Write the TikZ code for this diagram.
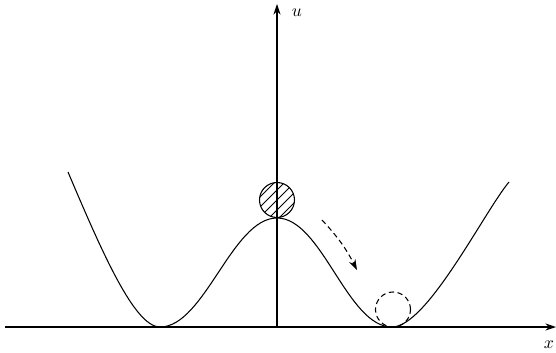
\documentclass[tikz,border=0pt]{standalone}
\usetikzlibrary{arrows.meta}
\begin{document}
\begin{tikzpicture}[line width=0.6pt, >={Stealth[length=6pt,width=4pt]}]
                    \useasboundingbox (-5.54,-0.5) rectangle (5.58,6.54);
                    % Axes
                    \coordinate (xl) at (-5.44,0); \coordinate (xr) at (5.58,0);
                    \coordinate (o) at (0,0); \coordinate (ut) at (0,6.46);
                    \draw[->] (xl) -- (xr);
                    \draw[->] (o) -- (ut);
                    \node (ulab) at (0.4,6.28) {$u$};
                    \node (xlab) at (5.44,-0.36) {$x$};
                    
                    % Potential
                    \draw (-4.18,3.1) .. controls (-3.5,1.5) and (-2.85,0) .. (-2.34,0)
                          .. controls (-1.45,0) and (-0.9,2.18) .. (0,2.18)
                          .. controls (0.9,2.18) and (1.4,0) .. (2.3,0)
                          .. controls (3.0,0) and (4.14,2.3) .. (4.64,2.9);
                    
                    % Ball on top
                    \begin{scope}
                        \clip (0,2.54) circle (0.35);
                        \foreach \k in {-3,...,3}
                            \draw[line width=0.5pt] (\k*0.2-0.5,2.04) -- (\k*0.2+0.5,3.04);
                    \end{scope}
                    \draw (0,2.54) circle (0.35);
                    
                    % Ball at the bottom
                    \draw[dashed, dash pattern=on 3pt off 2pt] (2.32,0.35) circle (0.35);
                    
                    % Motion
                    \coordinate (m1) at (0.9,2.14); \coordinate (m2) at (1.6,1.14);
                    \draw[->, dashed, dash pattern=on 3pt off 2pt] (m1) to[bend left=8] (m2);
                \end{tikzpicture}
\end{document}
